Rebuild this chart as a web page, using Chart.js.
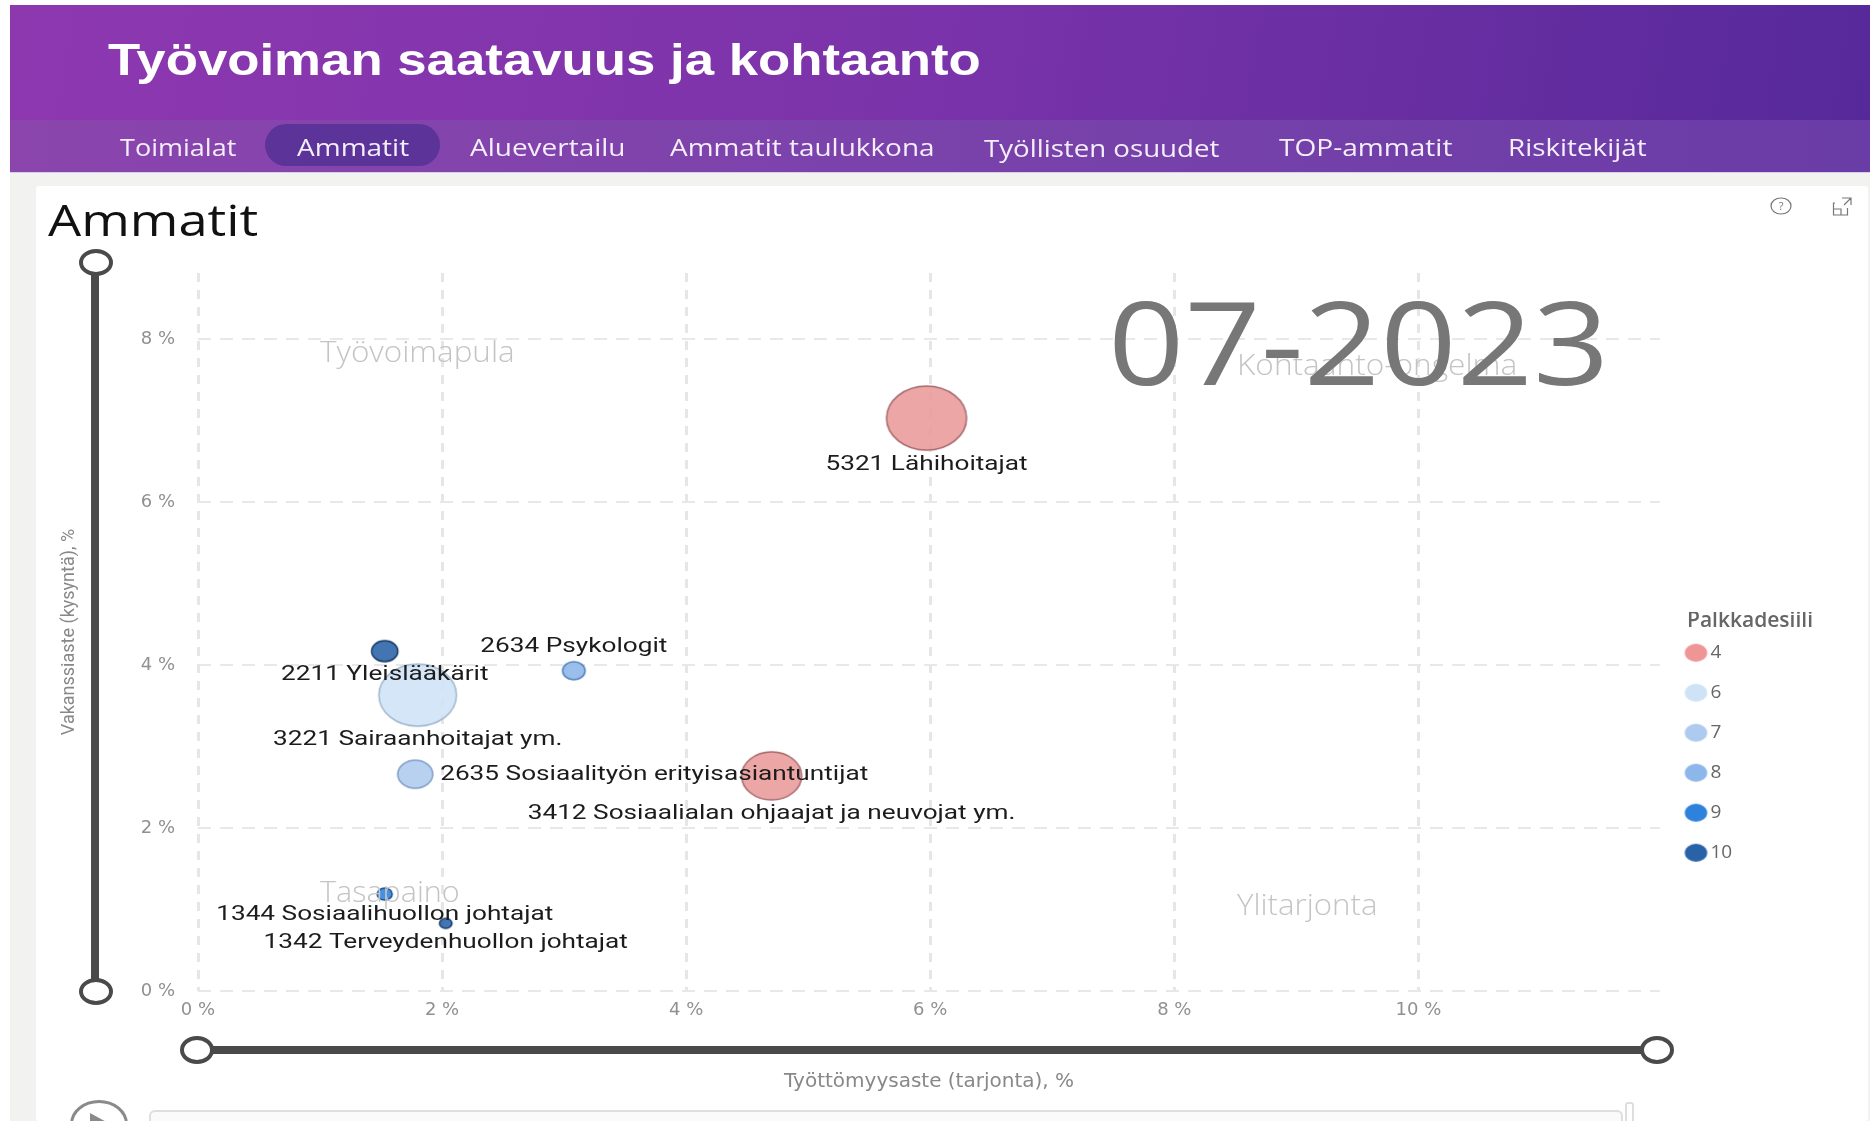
<!DOCTYPE html>
<html lang="fi"><head><meta charset="utf-8">
<script src="https://cdn.jsdelivr.net/npm/chart.js@4/dist/chart.umd.js"></script>
<style>
html,body{margin:0;padding:0;background:#fff;overflow:hidden}
#page{position:relative;width:1870px;height:1121px;overflow:hidden;background:#fff}
.abs{position:absolute}
.t{position:absolute;white-space:nowrap;transform-origin:left center;line-height:1}
#chart{position:absolute;left:0;top:0}
.knob{position:absolute;box-sizing:border-box;background:#fff;border:4px solid #4a4a4a;border-radius:50%}
</style></head><body>
<div id="page">
 <div class="abs" style="left:10px;top:5px;width:1860px;height:1116px;background:#f2f2f1"></div>
 <div class="abs" style="left:10px;top:5px;width:1860px;height:115px;background:linear-gradient(100deg,#8e38b0 0%,#7a33aa 50%,#56299a 100%)"></div>
 <div class="abs" style="left:10px;top:120px;width:1860px;height:52px;background:linear-gradient(90deg,#8b45ad 0%,#7a42ab 50%,#6a3ca6 100%);border-bottom:1px solid #d9cfe8"></div>
 <div class="abs" style="left:265px;top:124px;width:175px;height:42px;border-radius:21px;background:#5b3399"></div>
 <div class="abs" style="left:36px;top:186px;width:1832px;height:935px;background:#fff;border-radius:3px"></div>
 <canvas id="chart" width="1870" height="1121"></canvas>
 <div class="abs" style="left:91px;top:262px;width:8px;height:729px;background:#4a4a4a"></div>
 <div class="knob" style="left:79px;top:249px;width:34px;height:27px"></div>
 <div class="knob" style="left:79px;top:978px;width:34px;height:27px"></div>
 <div class="abs" style="left:197px;top:1046px;width:1460px;height:8px;background:#4a4a4a"></div>
 <div class="knob" style="left:180px;top:1036px;width:34px;height:28px"></div>
 <div class="knob" style="left:1640px;top:1036px;width:34px;height:28px"></div>
 <div class="abs" style="left:70px;top:1100px;width:52px;height:42px;border:3px solid #8a8a8a;border-radius:50%;background:#fff"></div>
 <div class="abs" style="left:90px;top:1113px;width:0;height:0;border-left:22px solid #8a8a8a;border-top:12px solid transparent;border-bottom:12px solid transparent"></div>
 <div class="abs" style="left:149px;top:1110px;width:1474px;height:20px;border:2px solid #dedede;border-radius:6px;background:#fafafa;box-sizing:border-box"></div>
 <div class="abs" style="left:1625px;top:1102px;width:9px;height:30px;border:2px solid #dedede;border-radius:3px;background:#fff;box-sizing:border-box"></div>
 <svg class="abs" style="left:1770px;top:195px" width="90" height="24" viewBox="0 0 90 24">
  <ellipse cx="11" cy="11" rx="10" ry="8" fill="none" stroke="#777" stroke-width="1.2"/>
  <text x="11" y="15" font-family="Open Sans" font-size="11" text-anchor="middle" fill="#777">?</text>
  <path d="M65 8h-1.5v12h14v-7M64 14h7v6M72 3h9v7M81 3l-7 7" fill="none" stroke="#777" stroke-width="1.2"/>
 </svg>
</div>
<script>
// ---- Chart data ----
const occupations = ['5321 Lähihoitajat','2211 Yleislääkärit','2634 Psykologit','3221 Sairaanhoitajat ym.','2635 Sosiaalityön erityisasiantuntijat','3412 Sosiaalialan ohjaajat ja neuvojat ym.','1344 Sosiaalihuollon johtajat','1342 Terveydenhuollon johtajat'];
const unemployment = [5.97,1.53,3.08,1.80,1.78,4.70,1.53,2.03];
const vacancy = [7.03,4.17,3.93,3.63,2.66,2.64,1.19,0.83];
const bubbleSize = [32,10.5,9,31,14,24,6,5];
const decileOf = [4,10,8,6,7,4,9,10];
const deciles = [4,6,7,8,9,10];
const decileColors = ['#F09595','#CFE3F7','#AECBEF','#8DB6EA','#2F82DC','#2A62A8'];
const bubbleColors = ['#E99A9A','#CFE3F7','#AECBEF','#8DB6EA','#2F82DC','#2A62A8'];
const decileBorders = ['#a5666a','#9fb6cc','#7f9dc4','#4f7fb8','#174f90','#173a66'];
const labelOffsets = [[0,46],[0,23],[0,-25],[0,44],[239,0],[0,37],[0,20],[0,19]];
const xTitle = 'Työttömyysaste (tarjonta), %';
const yTitle = 'Vakanssiaste (kysyntä), %';
const legendTitle = 'Palkkadesiili';
const reportTitle = 'Työvoiman saatavuus ja kohtaanto';
const navItems = ['Toimialat','Ammatit','Aluevertailu','Ammatit taulukkona','Työllisten osuudet','TOP-ammatit','Riskitekijät'];
const visualTitle = 'Ammatit';
const periodLabel = '07-2023';
const quadrantLabels = ['Työvoimapula','Kohtaanto-ongelma','Tasapaino','Ylitarjonta'];

// ---- Page text fitted to the reference's horizontally stretched look ----
const page = document.getElementById('page');
function put(text,x,y,w,font,color,z){
  const e=document.createElement('div');e.className='t';e.textContent=text;
  e.style.cssText+=`left:${x}px;top:${y}px;font:${font};color:${color};z-index:${z||1}`;
  page.appendChild(e);
  const k=w/e.offsetWidth;
  e.style.transform=`translateY(-50%) scaleX(${k})`;
}
put(reportTitle,108,60,873,'bold 44px "Liberation Sans"','#fff');
const navGeom=[[120,116],[297,112],[470,155],[670,264],[984,235],[1279,173],[1508,139]];
navItems.forEach((n,i)=>put(n,navGeom[i][0],i===4?147:146,navGeom[i][1],'24px "Open Sans"','#f4eefa'));
put(visualTitle,48,219,210,'44px "Open Sans"','#111');
const quadGeom=[[320,350,195],[1237,363,280],[320,890,140],[1237,903,141]];
quadrantLabels.forEach((q,i)=>put(q,quadGeom[i][0],quadGeom[i][1],quadGeom[i][2],'300 29px "Open Sans"','#c4c4c4',2));
put(periodLabel,1108,340,502,'115px "Open Sans"','#777',3);

// ---- Chart ----
const STRETCH=1.25;
function sprite(r,fill,stroke,alpha){
  const c=document.createElement('canvas');
  c.width=Math.ceil(2*r*STRETCH+4);c.height=Math.ceil(2*r+4);
  const g=c.getContext('2d');
  g.beginPath();g.ellipse(c.width/2,c.height/2,r*STRETCH,r,0,0,Math.PI*2);
  g.globalAlpha=alpha;g.fillStyle=fill;g.fill();
  if(stroke){g.globalAlpha=1;g.strokeStyle=stroke;g.lineWidth=1.5;g.stroke();}
  return c;
}
const datasets=deciles.map((d,k)=>{
  const idx=occupations.map((_,i)=>i).filter(i=>decileOf[i]===d);
  return {
    label:String(d),
    data:idx.map(i=>({x:unemployment[i],y:vacancy[i],r:bubbleSize[i],name:occupations[i],off:labelOffsets[i]})),
    backgroundColor:bubbleColors[k],
    borderColor:decileBorders[k],
    pointStyle:c=>c.raw?sprite(c.raw.r,bubbleColors[k],decileBorders[k],.88):'circle',
    clip:false
  };
});
const bubbleLabels={
  id:'bubbleLabels',
  afterDatasetsDraw(chart){
    const g=chart.ctx;
    chart.data.datasets.forEach((ds,di)=>{
      chart.getDatasetMeta(di).data.forEach((el,i)=>{
        const p=ds.data[i];
        g.save();
        g.translate(el.x+p.off[0],el.y+p.off[1]+1);
        g.scale(1.31,1);
        g.font='20px Roboto';g.fillStyle='#1c1c1c';g.textAlign='center';g.textBaseline='middle';
        g.fillText(p.name,0,0);
        g.restore();
      });
    });
  }
};
const placeLegend={
  id:'placeLegend',
  afterLayout(chart){
    const l=chart.legend;
    l.left=1670;l.width=160;l.right=1830;l.top=612;l.height=400;l.bottom=1012;
  }
};
new Chart(document.getElementById('chart'),{
  type:'bubble',
  data:{datasets},
  plugins:[bubbleLabels,placeLegend],
  options:{
    responsive:false,animation:false,devicePixelRatio:1,
    layout:{padding:{left:50,top:273,right:210,bottom:30}},
    plugins:{
      tooltip:{enabled:false},
      legend:{
        position:'chartArea',align:'start',
        title:{display:true,text:legendTitle,color:'#666',position:'center',font:{family:'Open Sans',size:21,weight:'600'},padding:{top:-1,bottom:-14}},
        labels:{
          color:'#666',font:{family:'Open Sans',size:19},usePointStyle:true,pointStyleWidth:10,padding:21,
          generateLabels:ch=>deciles.map((d,k)=>({text:String(d),fontColor:'#666',pointStyle:sprite(9,decileColors[k],null,1),datasetIndex:k,lineWidth:0,strokeStyle:'transparent',fillStyle:decileColors[k]}))
        }
      }
    },
    scales:{
      x:{
        type:'linear',min:0,max:11.98,
        afterFit:s=>{s.height=100;},
        ticks:{stepSize:2,includeBounds:false,padding:9,maxRotation:0,color:'#909090',font:{family:'DejaVu Sans',size:18},callback:v=>v+' %'},
        grid:{color:'#e6e6e6',lineWidth:3,drawTicks:false},
        border:{display:false,dash:[9,8]},
        title:{display:true,text:xTitle,color:'#888',font:{family:'DejaVu Sans',size:20},padding:{top:0,bottom:-3}}
      },
      y:{
        type:'linear',min:0,max:8.81,
        afterFit:s=>{s.width=148;},
        ticks:{stepSize:2,includeBounds:false,padding:23,color:'#909090',font:{family:'DejaVu Sans',size:18},callback:v=>v+' %'},
        grid:{color:'#e8e8e8',lineWidth:2,drawTicks:false},
        border:{display:false,dash:[13,9]},
        title:{display:true,text:yTitle,color:'#888',font:{family:'Roboto',size:18},padding:{top:9,bottom:0}}
      }
    }
  }
});
</script>
</body></html>
